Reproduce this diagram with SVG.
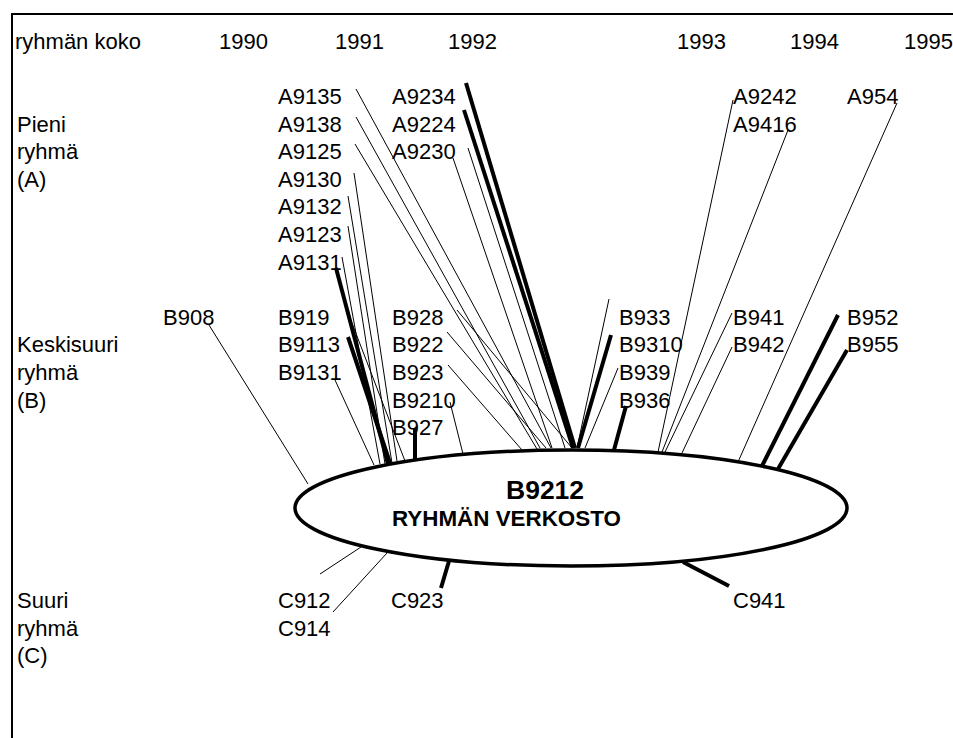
<svg xmlns="http://www.w3.org/2000/svg" width="953" height="738" viewBox="0 0 953 738">
<style>
text{font-family:"Liberation Sans",Arial,sans-serif;font-size:22px;fill:#000}
.b{font-weight:bold}
.t{stroke:#000;stroke-width:1;fill:none}
.k{stroke:#000;stroke-width:4;fill:none}
.f{stroke:#000;stroke-width:2;fill:none}
</style>
<rect width="953" height="738" fill="#fff"/>
<path class="f" d="M12,738 V14 H953"/>
<g id="axis">
<text x="15" y="48.8">ryhmän koko</text>
<text x="219" y="48.8">1990</text>
<text x="335" y="48.8">1991</text>
<text x="448" y="48.8">1992</text>
<text x="677" y="48.8">1993</text>
<text x="790" y="48.8">1994</text>
<text x="904" y="48.8">1995</text>
<text x="17" y="131.6">Pieni</text>
<text x="17" y="159.2">ryhmä</text>
<text x="17" y="186.8">(A)</text>
<text x="17" y="352.4">Keskisuuri</text>
<text x="17" y="380">ryhmä</text>
<text x="17" y="407.6">(B)</text>
<text x="17" y="608">Suuri</text>
<text x="17" y="635.6">ryhmä</text>
<text x="17" y="663.2">(C)</text>
</g>
<g id="connectors">
<line class="t" x1="356" y1="89" x2="551" y2="448"/>
<line class="t" x1="356" y1="117" x2="540" y2="448"/>
<line class="t" x1="355" y1="144" x2="537" y2="449"/>
<line class="t" x1="354" y1="173" x2="397" y2="461"/>
<line class="t" x1="348" y1="196" x2="392" y2="463"/>
<line class="t" x1="348" y1="226" x2="385" y2="464"/>
<line class="t" x1="342" y1="257" x2="380" y2="464"/>
<line class="k" x1="336" y1="268" x2="388" y2="464"/>
<line class="k" x1="466" y1="83" x2="575" y2="448"/>
<line class="k" x1="464" y1="110" x2="573" y2="448"/>
<line class="t" x1="453" y1="158" x2="552" y2="448"/>
<line class="t" x1="468" y1="148" x2="565" y2="448"/>
<line class="t" x1="733" y1="100" x2="658" y2="452"/>
<line class="t" x1="788" y1="130" x2="662" y2="452"/>
<line class="t" x1="897" y1="103" x2="738" y2="462"/>
<line class="t" x1="209" y1="325" x2="308" y2="484"/>
<line class="t" x1="345" y1="305" x2="405" y2="461"/>
<line class="k" x1="348" y1="337" x2="390" y2="463"/>
<line class="t" x1="335" y1="380" x2="374" y2="465"/>
<line class="t" x1="457" y1="310" x2="572" y2="448"/>
<line class="t" x1="447" y1="332" x2="546" y2="448"/>
<line class="t" x1="448" y1="365" x2="522" y2="450"/>
<line class="t" x1="450" y1="402" x2="463" y2="454"/>
<line class="k" x1="415" y1="428" x2="415" y2="460"/>
<line class="t" x1="609" y1="299" x2="577" y2="448"/>
<line class="k" x1="611" y1="335" x2="578" y2="448"/>
<line class="t" x1="618" y1="368" x2="585" y2="448"/>
<line class="k" x1="626" y1="406" x2="614" y2="450"/>
<line class="t" x1="732" y1="313" x2="665" y2="452"/>
<line class="t" x1="732" y1="347" x2="682" y2="453"/>
<line class="k" x1="838" y1="315" x2="762" y2="466"/>
<line class="k" x1="847" y1="350" x2="778" y2="469"/>
<line class="t" x1="320" y1="574" x2="361" y2="547"/>
<line class="t" x1="333" y1="612" x2="387" y2="553"/>
<line class="k" x1="441" y1="588" x2="449" y2="561"/>
<line class="k" x1="683" y1="562" x2="729" y2="586"/>
</g>
<g id="A-labels">
<text x="278" y="104">A9135</text>
<text x="278" y="131.6">A9138</text>
<text x="278" y="159.2">A9125</text>
<text x="278" y="186.8">A9130</text>
<text x="278" y="214.4">A9132</text>
<text x="278" y="242">A9123</text>
<text x="278" y="269.6">A9131</text>
<text x="392" y="104">A9234</text>
<text x="392" y="131.6">A9224</text>
<text x="392" y="159.2">A9230</text>
<text x="733" y="104">A9242</text>
<text x="733" y="131.6">A9416</text>
<text x="847" y="104">A954</text>
</g>
<g id="B-labels">
<text x="163" y="324.8">B908</text>
<text x="278" y="324.8">B919</text>
<text x="278" y="352.4">B9113</text>
<text x="278" y="380">B9131</text>
<text x="392" y="324.8">B928</text>
<text x="392" y="352.4">B922</text>
<text x="392" y="380">B923</text>
<text x="392" y="407.6">B9210</text>
<text x="392" y="435.2">B927</text>
<text x="619" y="324.8">B933</text>
<text x="619" y="352.4">B9310</text>
<text x="619" y="380">B939</text>
<text x="619" y="407.6">B936</text>
<text x="733" y="324.8">B941</text>
<text x="733" y="352.4">B942</text>
<text x="847" y="324.8">B952</text>
<text x="847" y="352.4">B955</text>
</g>
<g id="C-labels">
<text x="278" y="608">C912</text>
<text x="278" y="635.6">C914</text>
<text x="391" y="608">C923</text>
<text x="733" y="608">C941</text>
</g>
<g id="B9212">
<ellipse cx="571" cy="508" rx="276" ry="58" fill="#fff" stroke="#000" stroke-width="3.5"/>
<text class="b" x="506" y="499" style="font-size:26.5px">B9212</text>
<text class="b" x="392" y="526" style="font-size:22.4px">RYHMÄN VERKOSTO</text>
</g>
</svg>
